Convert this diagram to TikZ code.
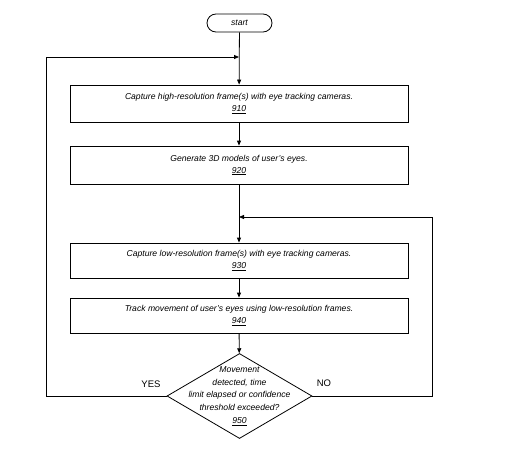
\documentclass[tikz,border=0pt]{standalone}
\usepackage{fontspec}
\setmainfont{Liberation Sans}
\usetikzlibrary{shapes.geometric, arrows.meta}

\begin{document}
\begin{tikzpicture}[x=1pt, y=-1pt, line width=0.8pt,
  font=\fontsize{8.6}{12}\selectfont\itshape,
  terminal/.style={draw, rectangle, rounded corners=9pt, minimum width=65pt, minimum height=18pt, inner sep=1pt},
  stepbox/.style={draw, rectangle, minimum width=338pt, align=center, inner sep=1pt},
  decision/.style={draw, diamond, minimum width=145pt, minimum height=85pt, inner sep=0pt},
  dectext/.style={align=center, font=\fontsize{8.6}{12.8}\selectfont\itshape},
  answer/.style={font=\fontsize{9.5}{10}\selectfont},
  flow/.style={-{Triangle[length=5pt, width=4pt]}}]
\useasboundingbox (0,0) rectangle (507,463);
\node[terminal] (start) at (239.5,23) {start};
\node[stepbox, minimum height=37pt] (s910) at (239,103.5) {Capture high-resolution frame(s) with eye tracking cameras.\\\underline{910}};
\node[stepbox, minimum height=38pt] (s920) at (239,165) {Generate 3D models of user's eyes.\\\underline{920}};
\node[stepbox, minimum height=35pt] (s930) at (239,260.5) {Capture low-resolution frame(s) with eye tracking cameras.\\\underline{930}};
\node[stepbox, minimum height=35pt] (s940) at (239,315.5) {Track movement of user's eyes using low-resolution frames.\\\underline{940}};
\node[decision, label={[dectext]center:{Movement\\detected, time\\limit elapsed or confidence\\threshold exceeded?\\\underline{950}}}] (d950) at (239.5,396) {};
\coordinate (join1) at (239,57);
\coordinate (join2) at (239,217);
% main line
\draw[flow] (start) -- (s910);
\draw[flow] (s910) -- (s920);
\draw[flow] (s920) -- (s930);
\draw[flow] (s930) -- (s940);
\draw[flow] (s940) -- (d950);
% loops
\draw[flow] (d950.west) -| (46,57) -- (join1);
\draw[flow] (d950.east) -| (432,217) -- (join2);
\node[answer] (yes) at (151,384) {YES};
\node[answer] (no) at (324,383) {NO};
\end{tikzpicture}
\end{document}
